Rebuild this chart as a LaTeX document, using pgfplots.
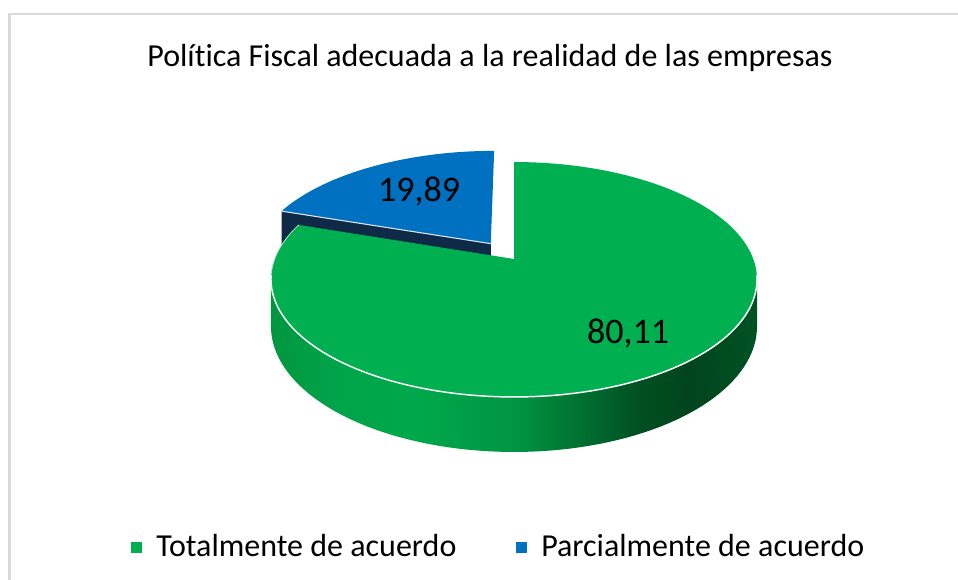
\documentclass[border=0pt]{standalone}
\usepackage{fontspec}
\setmainfont{Carlito}[Ligatures=NoCommon,Contextuals=NoAlternate,RawFeature={-liga;-clig;-calt}]
\usepackage{pgfplots}
\pgfplotsset{compat=1.18}

\definecolor{gtop}{HTML}{00B050}
\definecolor{btop}{HTML}{0070C0}
\definecolor{bside}{HTML}{0E2A47}
\definecolor{framec}{HTML}{D9D9D9}
\definecolor{s0}{HTML}{00963F}
\definecolor{s1}{HTML}{00A349}
\definecolor{s2}{HTML}{00A84B}
\definecolor{s3}{HTML}{009542}
\definecolor{s4}{HTML}{006A2E}
\definecolor{s5}{HTML}{004F22}
\definecolor{s6}{HTML}{00441D}
\definecolor{s7}{HTML}{005224}

\pgfdeclarehorizontalshading{gside}{100bp}{color(0bp)=(s0); color(25bp)=(s0); color(31bp)=(s1); color(40bp)=(s2); color(50bp)=(s3); color(58bp)=(s4); color(63bp)=(s5); color(68bp)=(s6); color(75bp)=(s7); color(100bp)=(s7)}

% perspective projection of a point (X,Y) of the unit pie disc, level z (0 top, 1 bottom)
\pgfmathdeclarefunction{sx}{2}{\pgfmathparse{514+239.3*(#1)/(1+0.1745*(#2))}}
\pgfmathdeclarefunction{sy}{3}{\pgfmathparse{259-(113.9*(#2)-45.4*(#3))/(1+0.1745*(#2))}}

\begin{document}
\begin{tikzpicture}
% data (percent)
\def\valT{80.11}% Totalmente de acuerdo
\def\valP{19.89}% Parcialmente de acuerdo
\pgfmathsetmacro\gA{90-3.6*\valT}
\pgfmathsetmacro\gE{\gA+26}
\pgfmathsetmacro\bB{90+3.6*\valP}
\pgfmathsetmacro\mid{90+1.8*\valP}
\pgfmathsetmacro\ex{0.17*cos(\mid)}
\pgfmathsetmacro\ey{0.17*sin(\mid)}
\pgfmathsetmacro\cbx{cos(\bB)+\ex}
\pgfmathsetmacro\cby{sin(\bB)+\ey}
\begin{axis}[width=718.5pt,height=435pt,scale only axis,
  xmin=0,xmax=958,ymin=0,ymax=580,y dir=reverse,hide axis,clip=false]
% frame
\draw[framec,line width=1.6pt] (axis cs:8,14) -- (axis cs:958,14);
\draw[framec,line width=1.6pt] (axis cs:9.5,14) -- (axis cs:9.5,580);
% blue slice: radial side face
\fill[bside] (axis cs:{sx(\cbx,\cby)},{sy(\cbx,\cby,0)}) -- (axis cs:{sx(\ex,\ey)},{sy(\ex,\ey,0)})
  -- (axis cs:{sx(\ex,\ey)},{sy(\ex,\ey,1)}) -- (axis cs:{sx(\cbx,\cby)},{sy(\cbx,\cby,1)}) -- cycle;
% blue slice: top face
\fill[btop] (axis cs:{sx(\ex,\ey)},{sy(\ex,\ey,0)}) -- plot[domain=90:\bB,samples=40,variable=\t]
  (axis cs:{sx(cos(\t)+\ex,sin(\t)+\ey)},{sy(cos(\t)+\ex,sin(\t)+\ey,0)}) -- cycle;
\draw[white!85!btop,line width=0.8pt] (axis cs:{sx(\cbx,\cby)},{sy(\cbx,\cby,0)}) -- (axis cs:{sx(\ex,\ey)},{sy(\ex,\ey,0)});
% green slice: front side
\shade[shading=gside] plot[domain=190.05:349.95,samples=80,variable=\t]
  (axis cs:{sx(cos(\t),sin(\t))},{sy(cos(\t),sin(\t),0)})
  -- plot[domain=349.95:190.05,samples=80,variable=\t]
  (axis cs:{sx(cos(\t),sin(\t))},{sy(cos(\t),sin(\t),1)}) -- cycle;
% green slice: top face
\fill[gtop] (axis cs:{sx(0,0)},{sy(0,0,0)}) -- plot[domain=\gA:90,samples=150,variable=\t]
  (axis cs:{sx(cos(\t),sin(\t))},{sy(cos(\t),sin(\t),0)}) -- cycle;
\draw[white,line width=1.1pt] plot[domain=188:352,samples=80,variable=\t]
  (axis cs:{sx(cos(\t),sin(\t))},{sy(cos(\t),sin(\t),0)});
\draw[white!70!gtop,line width=0.6pt] plot[domain=\gA:\gE,samples=20,variable=\t]
  (axis cs:{sx(cos(\t),sin(\t))},{sy(cos(\t),sin(\t),0)});
% data labels
\node[anchor=base,font=\fontsize{27}{31}\selectfont,inner sep=0pt] at (axis cs:419,202) {19,89};
\node[anchor=base,font=\fontsize{27}{31}\selectfont,inner sep=0pt] at (axis cs:628,344) {80,11};
% title
\node[anchor=base,font=\fontsize{24}{28}\selectfont,inner sep=0pt] at (axis cs:490,67) {Política Fiscal adecuada a la realidad de las empresas};
% legend
\fill[gtop] (axis cs:131,542) rectangle (axis cs:142,553);
\node[anchor=base west,font=\fontsize{24}{28}\selectfont,inner sep=0pt] at (axis cs:156,557) {Totalmente de acuerdo};
\fill[btop] (axis cs:516,542) rectangle (axis cs:527,553);
\node[anchor=base west,font=\fontsize{24}{28}\selectfont,inner sep=0pt] at (axis cs:541,557) {Parcialmente de acuerdo};
\end{axis}
\pgfresetboundingbox
\path (current axis.south west) rectangle (current axis.north east);
\end{tikzpicture}
\end{document}
